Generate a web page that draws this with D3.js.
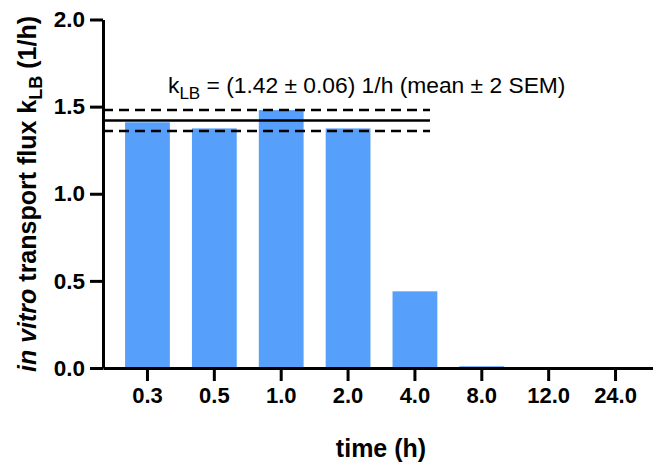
<!DOCTYPE html>
<html>
<head>
<meta charset="utf-8">
<script src="https://cdn.jsdelivr.net/npm/d3@7"></script>
<style>
  body { margin: 0; background: #fff; }
  text { font-family: "Liberation Sans", Arial, sans-serif; }
</style>
</head>
<body>
<div id="chart"></div>
<script>
// ------- Data -------
const times = ["0.3", "0.5", "1.0", "2.0", "4.0", "8.0", "12.0", "24.0"];
const flux = [1.41, 1.375, 1.48, 1.375, 0.44, 0.01, 0, 0];
const meanK = 1.42;
const twoSem = 0.06;
const yTicks = [0, 0.5, 1.0, 1.5, 2.0];

// ------- Layout -------
const width = 653;
const height = 465;
const axisX = 103;
const y0 = 368;
const fontStack = "Liberation Sans, Arial, sans-serif";

const svg = d3.select("#chart").append("svg")
  .attr("width", width)
  .attr("height", height);

const x = d3.scaleBand()
  .domain(times)
  .range([axisX, 660])
  .paddingInner(0.33)
  .paddingOuter(0.33);

const y = d3.scaleLinear()
  .domain([0, 2])
  .range([y0, 19.5]);

// Bars
svg.selectAll("rect.bar")
  .data(times.map((t, i) => ({ t, v: flux[i] })))
  .join("rect")
  .attr("class", "bar")
  .attr("x", (d) => x(d.t))
  .attr("width", x.bandwidth())
  .attr("y", (d) => y(d.v))
  .attr("height", (d) => y0 - y(d.v))
  .attr("fill", "#56a0fb");

// Mean and +/- 2 SEM lines
const lineEnd = 430;
svg.append("line")
  .attr("x1", axisX).attr("x2", lineEnd)
  .attr("y1", y(meanK)).attr("y2", y(meanK))
  .attr("stroke", "#000").attr("stroke-width", 2.5);

[meanK + twoSem, meanK - twoSem].forEach((v) => {
  svg.append("line")
    .attr("x1", axisX).attr("x2", lineEnd)
    .attr("y1", y(v)).attr("y2", y(v))
    .attr("stroke", "#000").attr("stroke-width", 2.5)
    .attr("stroke-dasharray", "10,6");
});

// Annotation
const note = svg.append("text")
  .attr("x", 168)
  .attr("y", 93)
  .attr("font-size", 22.8);
note.append("tspan").text("k");
note.append("tspan").attr("dy", 6).attr("font-size", 17).text("LB");
note.append("tspan").attr("dy", -6).text(" = (1.42 \u00b1 0.06) 1/h (mean \u00b1 2 SEM)");

// Axes
const xAxis = d3.axisBottom(x).tickSize(13).tickPadding(6).tickSizeOuter(0);
const xAxisG = svg.append("g")
  .attr("transform", `translate(0,${y0})`)
  .call(xAxis);
xAxisG.select(".domain").attr("stroke-width", 3);
xAxisG.selectAll(".tick line").attr("stroke-width", 3);
xAxisG.selectAll(".tick text")
  .attr("font-size", 22)
  .attr("font-weight", "bold")
  .attr("font-family", fontStack)
  .attr("fill", "#000");

const yAxis = d3.axisLeft(y).tickValues(yTicks).tickFormat(d3.format(".1f"))
  .tickSize(13).tickPadding(5).tickSizeOuter(0);
const yAxisG = svg.append("g")
  .attr("transform", `translate(${axisX},0)`)
  .call(yAxis);
yAxisG.select(".domain").attr("stroke-width", 3);
yAxisG.selectAll(".tick line").attr("stroke-width", 3);
yAxisG.selectAll(".tick text")
  .attr("font-size", 22.5)
  .attr("font-weight", "bold")
  .attr("font-family", fontStack)
  .attr("fill", "#000");

// Axis titles
svg.append("text")
  .attr("x", 381)
  .attr("y", 457)
  .attr("text-anchor", "middle")
  .attr("font-size", 25)
  .attr("font-weight", "bold")
  .text("time (h)");

const yTitle = svg.append("text")
  .attr("transform", `translate(36,${194}) rotate(-90)`)
  .attr("text-anchor", "middle")
  .attr("font-size", 25)
  .attr("font-weight", "bold");
yTitle.append("tspan").attr("font-style", "italic").text("in vitro");
yTitle.append("tspan").text(" transport flux k");
yTitle.append("tspan").attr("dy", 6).attr("font-size", 18).text("LB");
yTitle.append("tspan").attr("dy", -6).text(" (1/h)");
</script>
</body>
</html>
